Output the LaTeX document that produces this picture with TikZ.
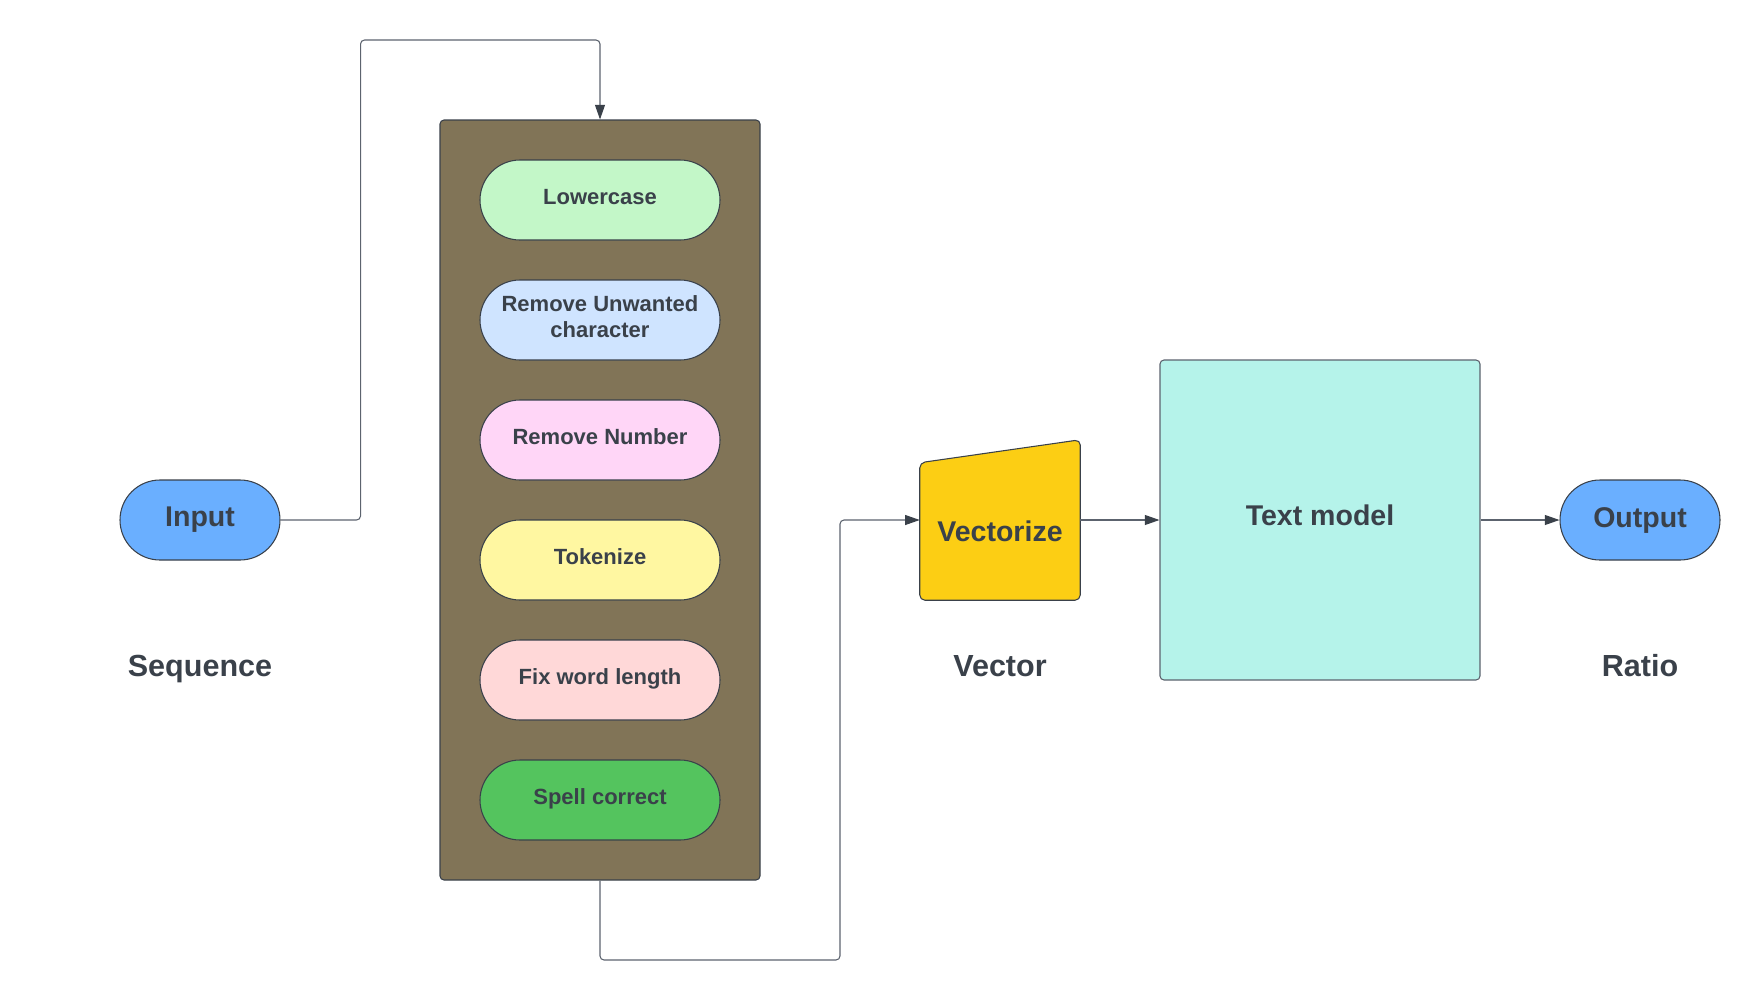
\documentclass[tikz,border=0pt]{standalone}
\usepackage{fontspec}
\setmainfont{Liberation Sans}
\usetikzlibrary{positioning,calc,shapes.misc,arrows.meta}

\definecolor{ink}{HTML}{3A414A}
\definecolor{wire}{HTML}{5C636E}
\definecolor{cTerm}{HTML}{6AAFFF}
\definecolor{cStage}{HTML}{817457}
\definecolor{cLower}{HTML}{C3F7C8}
\definecolor{cUnwanted}{HTML}{CFE4FF}
\definecolor{cNumber}{HTML}{FFD6F7}
\definecolor{cToken}{HTML}{FFF7A1}
\definecolor{cLength}{HTML}{FFD8D8}
\definecolor{cSpell}{HTML}{54C45E}
\definecolor{cVec}{HTML}{FCCE14}
\definecolor{cModel}{HTML}{B5F3EA}

\tikzset{
  pill/.style={rounded rectangle, draw=ink, line width=0.8pt, minimum width=180pt,
    minimum height=60pt, inner sep=0pt, text=ink, align=center, text depth=5pt,
    font=\fontsize{16.5}{19.5}\selectfont\bfseries},
  endpill/.style={pill, minimum width=120pt, fill=cTerm, text depth=,
    font=\fontsize{21.4}{25}\selectfont\bfseries},
  bigtext/.style={text=ink, font=\fontsize{21.4}{25}\selectfont\bfseries},
  caption/.style={text=ink, anchor=base, font=\fontsize{22.9}{27}\selectfont\bfseries},
  link/.style={draw=wire, line width=0.8pt, rounded corners=3pt,
    -{Triangle[length=11pt,width=7.5pt,color=ink]}},
}

\begin{document}
\begin{tikzpicture}[x=0.75pt, y=-0.75pt]
    \useasboundingbox (0,0) rectangle (1760,1000);

    % input and its caption
    \node[endpill] (in) at (200,520) {Input};
    \node[caption] (seqlbl) at (200,676) {Sequence};

    % preprocessing stage
    \node[draw=ink, fill=cStage, line width=0.8pt, rounded corners=3pt,
          minimum width=240pt, minimum height=570pt] (prep) at (600,500) {};
    \foreach \nm/\txt/\col [count=\i from 0] in {
        lower/Lowercase/cLower,
        unwanted/{Remove Unwanted\\character}/cUnwanted,
        number/Remove Number/cNumber,
        token/Tokenize/cToken,
        length/Fix word length/cLength,
        spell/Spell correct/cSpell} {
        \node[pill, fill=\col] (\nm) at (600,{200+120*\i}) {\txt};
    }

    % vectorize
    \node[minimum width=120pt, minimum height=120pt, inner sep=0pt] (vec) at (1000,520) {};
    \filldraw[fill=cVec, draw=ink, line width=0.8pt, rounded corners=4pt]
        (vec.south) -- (vec.south east) -- (vec.north east)
        -- ($(vec.north west)+(0,23)$) -- (vec.south west) -- cycle;
    \node[bigtext] (vectxt) at (1000,531) {Vectorize};
    \node[caption] (veclbl) at (1000,676) {Vector};

    % model
    \node[draw=wire, fill=cModel, line width=0.8pt, rounded corners=3pt,
          minimum size=240pt, bigtext, text depth=8pt] (model) at (1320,520) {Text model};

    % output
    \node[endpill] (out) at (1640,520) {Output};
    \node[caption] (ratiolbl) at (1640,676) {Ratio};

    % connectors
    \coordinate (looptop) at (600,40);
    \coordinate (loopbot) at (840,960);
    \draw[link] (in.east) -- ++(80,0) |- (looptop) -- (prep.north);
    \draw[link] (prep.south) |- (loopbot) |- (vec.west);
    \draw[link] (vec.east) -- (model.west);
    \draw[link] (model.east) -- (out.west);

\end{tikzpicture}
\end{document}
